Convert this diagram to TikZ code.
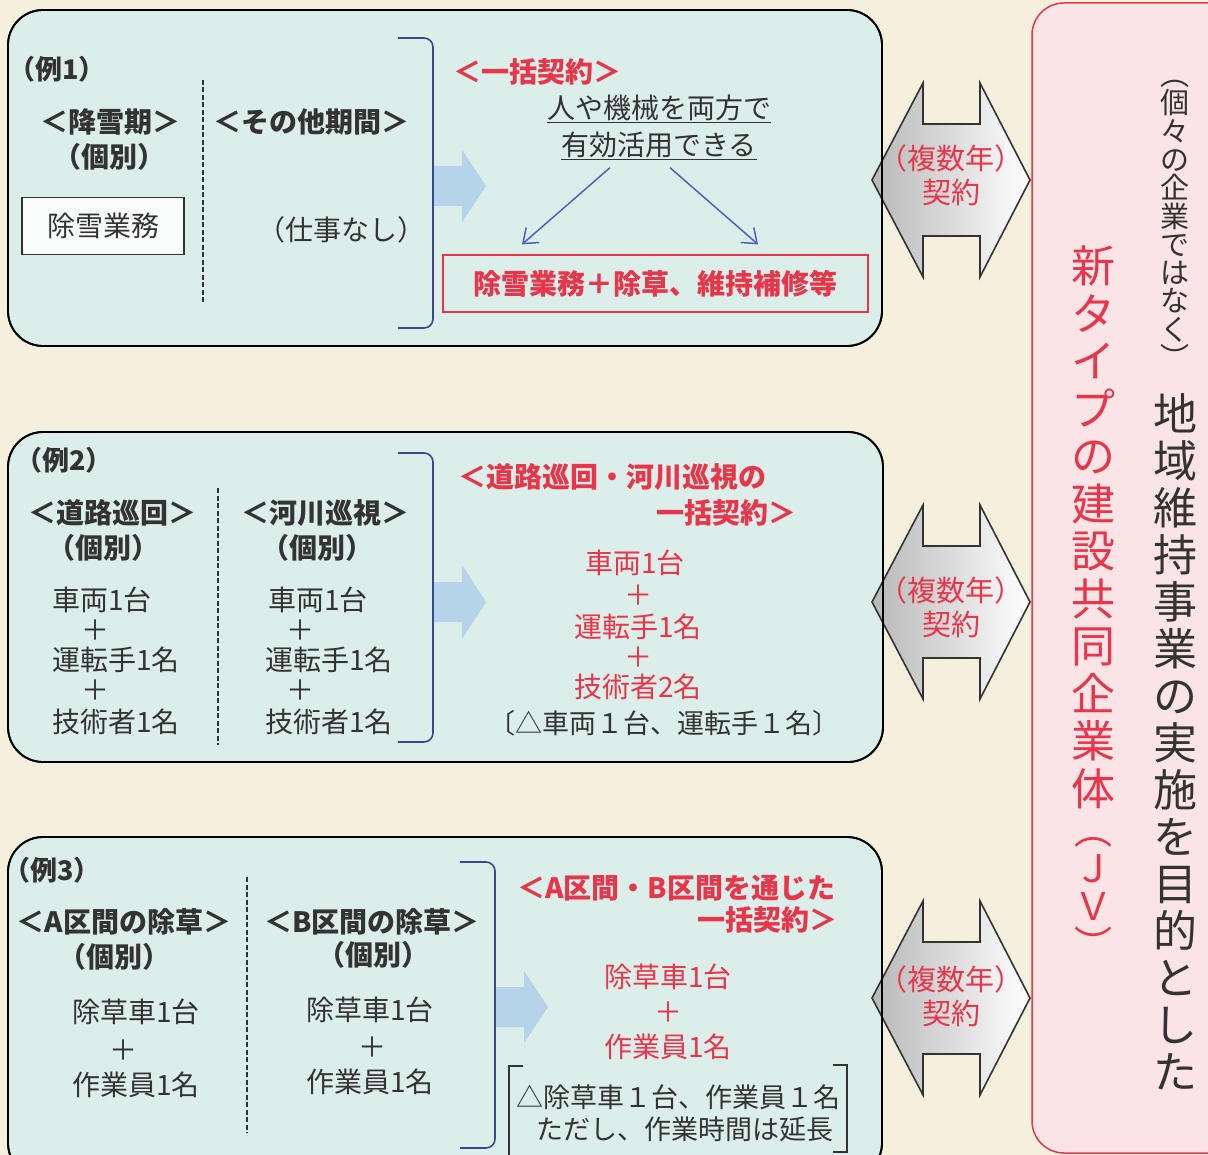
\documentclass[tikz,border=0pt]{standalone}
\usepackage{fontspec}
\setmainfont{Noto Sans CJK JP}
\usetikzlibrary{arrows.meta}
\definecolor{bgc}{HTML}{F5F0DD}
\definecolor{panelc}{HTML}{DCEEEA}
\definecolor{pinkc}{HTML}{FBE4E6}
\definecolor{pinkline}{HTML}{E03A4C}
\definecolor{redt}{HTML}{E8354A}
\definecolor{ink}{HTML}{333333}
\definecolor{navy}{HTML}{3B4690}
\definecolor{thinblue}{HTML}{4F63B5}
\definecolor{fatblue}{HTML}{B5D3E9}
\begin{document}
\begin{tikzpicture}[x=1pt,y=-1pt,
  panel/.style={draw=black, line width=1.8pt, fill=panelc, rounded corners=35pt},
  panelline/.style={draw=black, line width=1.8pt, rounded corners=35pt},
  pinkp/.style={draw=pinkline, line width=1.5pt, fill=pinkc, rounded corners=32pt},
  txt/.style={inner sep=0pt, text=ink, font=\fontsize{28}{30}\selectfont},
  hd/.style={inner sep=0pt, text=ink, font=\fontsize{28}{30}\selectfont\bfseries},
  exlab/.style={inner sep=0pt, text=ink, font=\fontsize{27}{28}\selectfont\bfseries},
  rhd/.style={inner sep=0pt, text=redt, font=\fontsize{28}{30}\selectfont\bfseries},
  rtxt/.style={inner sep=0pt, text=redt, font=\fontsize{28}{30}\selectfont},
  arrtxt/.style={inner sep=0pt, text=redt, align=center, font=\fontsize{29}{34}\selectfont},
  divider/.style={draw=ink, line width=1.4pt, dash pattern=on 5pt off 2.5pt},
  brk/.style={draw=navy, line width=1.6pt, rounded corners=9pt},
  sqbrk/.style={draw=ink, line width=1.4pt},
  fat/.style={fill=fatblue},
  thinarrow/.style={draw=thinblue, line width=1.5pt, -{Straight Barb[length=13pt,width=20pt]}},
  darrow/.style={draw=ink, line width=1.6pt, left color=black!28, right color=white, shading angle=90},
  dbl/.pic={\path[darrow] (-79,0) -- (-28,-97) -- (-28,-56) -- (29,-56) -- (29,-97) -- (79,0) -- (29,97) -- (29,56) -- (-28,56) -- (-28,97) -- cycle;}
]
\useasboundingbox (0,0) rectangle (1208,1155);
\fill[bgc] (0,0) rectangle (1208,1155);
\clip (0,0) rectangle (1208,1155);

% panels
\path[panel] (8,10) rectangle (882,346);
\path[panel] (8,432) rectangle (883,762);
\path[panel] (8,837) rectangle (882,1178);
\path[pinkp] (1032,3) rectangle (1250,1153);

% double arrows
\pic at (951,180) {dbl};
\pic at (951,602) {dbl};
\pic at (951,998) {dbl};
\path[panelline] (8,10) rectangle (882,346);
\path[panelline] (8,432) rectangle (883,762);
\path[panelline] (8,837) rectangle (882,1178);
\node[arrtxt] (c1) at (951,175) {（複数年）\\契約};
\node[arrtxt] (c2) at (951,607) {（複数年）\\契約};
\node[arrtxt] (c3) at (951,996) {（複数年）\\契約};

% ===== panel 1 =====
\node[exlab] (ex1) at (57,69) {（例1）};
\node[hd] (snow) at (110,122) {＜降雪期＞};
\node[hd] (ind1) at (109,157) {（個別）};
\node[txt, draw=ink, line width=1.5pt, fill=white!85!panelc, minimum width=162pt, minimum height=57pt] (josetsu) at (103,226) {除雪業務};
\draw[divider] (203,80) -- (203,303);
\node[hd] (other) at (311,122) {＜その他期間＞};
\node[txt] (nojob) at (341,230) {（仕事なし）};
\draw[brk] (398,38) -- (433,38) -- (433,328) -- (398,328);
\fill[fat] (434,166) -- (462,166) -- (462,150) -- (486,186) -- (462,222) -- (462,206) -- (434,206) -- cycle;
\node[rhd] (ikkatsu1) at (537,72) {＜一括契約＞};
\node[txt, align=center, font=\fontsize{28}{37}\selectfont] (eff) at (659,127) {\underline{人や機械を両方で}\\\underline{有効活用できる}};
\node[rhd, draw=redt, line width=1.3pt, minimum width=425pt, minimum height=57pt] (rbox) at (655.5,283.5) {除雪業務＋除草、維持補修等};
\draw[thinarrow] ([xshift=-49pt,yshift=-8pt]eff.south) -- ([xshift=-133.5pt,yshift=10pt]rbox.north);
\draw[thinarrow] ([xshift=11pt,yshift=-8pt]eff.south) -- ([xshift=102.5pt,yshift=10pt]rbox.north);

% ===== panel 2 =====
\node[exlab] (ex2) at (64,460) {（例2）};
\node[hd] (road) at (112,513) {＜道路巡回＞};
\node[hd] (ind2a) at (103,548) {（個別）};
\node[txt, anchor=west] (l1) at (52,600) {車両1台};
\node[txt] (lp1) at (95,630) {＋};
\node[txt, anchor=west] (l2) at (52,660) {運転手1名};
\node[txt] (lp2) at (95,690) {＋};
\node[txt, anchor=west] (l3) at (52,722) {技術者1名};
\draw[divider] (218,488) -- (218,745);
\node[hd] (river) at (325,513) {＜河川巡視＞};
\node[hd] (ind2b) at (317,548) {（個別）};
\node[txt, anchor=west] (r1) at (268,600) {車両1台};
\node[txt] (rp1) at (300,630) {＋};
\node[txt, anchor=west] (r2) at (265,660) {運転手1名};
\node[txt] (rp2) at (300,690) {＋};
\node[txt, anchor=west] (r3) at (265,722) {技術者1名};
\draw[brk] (398,453) -- (433,453) -- (433,742) -- (398,742);
\fill[fat] (434,582) -- (462,582) -- (462,565) -- (486,602) -- (462,639) -- (462,622) -- (434,622) -- cycle;
\node[rhd, anchor=west] (h2a) at (458,477) {＜道路巡回・河川巡視の};
\node[rhd, anchor=east] (h2b) at (797,513) {一括契約＞};
\node[rtxt] (m1) at (635,563) {車両1台};
\node[rtxt] (mp1) at (638,595) {＋};
\node[rtxt] (m2) at (638,627) {運転手1名};
\node[rtxt] (mp2) at (638,657) {＋};
\node[rtxt] (m3) at (638,687) {技術者2名};
\node[txt, font=\fontsize{27}{30}\selectfont] (note2) at (664,723) {〔△車両１台、運転手１名〕};

% ===== panel 3 =====
\node[exlab] (ex3) at (52,870) {（例3）};
\node[hd] (secA) at (124,922) {＜A区間の除草＞};
\node[hd] (ind3a) at (114,957) {（個別）};
\node[txt] (a1) at (136,1012) {除草車1台};
\node[txt] (ap) at (123,1050) {＋};
\node[txt] (a2) at (136,1085) {作業員1名};
\draw[divider] (247,877) -- (247,1133);
\node[hd] (secB) at (372,922) {＜B区間の除草＞};
\node[hd] (ind3b) at (373,955) {（個別）};
\node[txt] (b1) at (370,1010) {除草車1台};
\node[txt] (bp) at (372,1047) {＋};
\node[txt] (b2) at (370,1082) {作業員1名};
\draw[brk] (460,862) -- (495,862) -- (495,1148) -- (460,1148);
\fill[fat] (496,987) -- (524,987) -- (524,971) -- (548,1007) -- (524,1043) -- (524,1027) -- (496,1027) -- cycle;
\node[rhd, anchor=west] (h3a) at (517,888) {＜A区間・B区間を通じた};
\node[rhd, anchor=east] (h3b) at (838,920) {一括契約＞};
\node[rtxt] (n1) at (668,977) {除草車1台};
\node[rtxt] (np) at (668,1012) {＋};
\node[rtxt] (n2) at (668,1047) {作業員1名};
\draw[sqbrk] (523,1066) -- (509,1066) -- (509,1175);
\draw[sqbrk] (833,1065) -- (847,1065) -- (847,1152) -- (833,1152);
\node[txt, font=\fontsize{27}{30}\selectfont] (note3a) at (678,1097) {△除草車１台、作業員１名};
\node[txt, font=\fontsize{27}{30}\selectfont] (note3b) at (685,1129) {ただし、作業時間は延長};

% ===== right panel vertical text =====
\node[inner sep=0pt, text=redt, align=center, anchor=north, font=\fontsize{44}{47.5}\selectfont] (jv) at (1093,246)
  {新\\タ\\イ\\プ\\の\\建\\設\\共\\同\\企\\業\\体\\[-8.5pt]{\fontsize{38}{40}\selectfont ︵}\\[-9.5pt]{\fontsize{38}{40}\selectfont Ｊ}\\[-9.5pt]{\fontsize{38}{40}\selectfont Ｖ}\\[-9.5pt]{\fontsize{38}{40}\selectfont ︶}};
\node[inner sep=0pt, text=ink, align=center, anchor=north, font=\fontsize{29}{28.3}\selectfont] (notind) at (1175,80)
  {︵\\個\\々\\の\\企\\業\\で\\は\\な\\く\\︶};
\node[inner sep=0pt, text=ink, align=center, anchor=north, font=\fontsize{44}{47}\selectfont] (purpose) at (1175,393)
  {地\\域\\維\\持\\事\\業\\の\\実\\施\\を\\目\\的\\と\\し\\た};
\end{tikzpicture}
\end{document}
